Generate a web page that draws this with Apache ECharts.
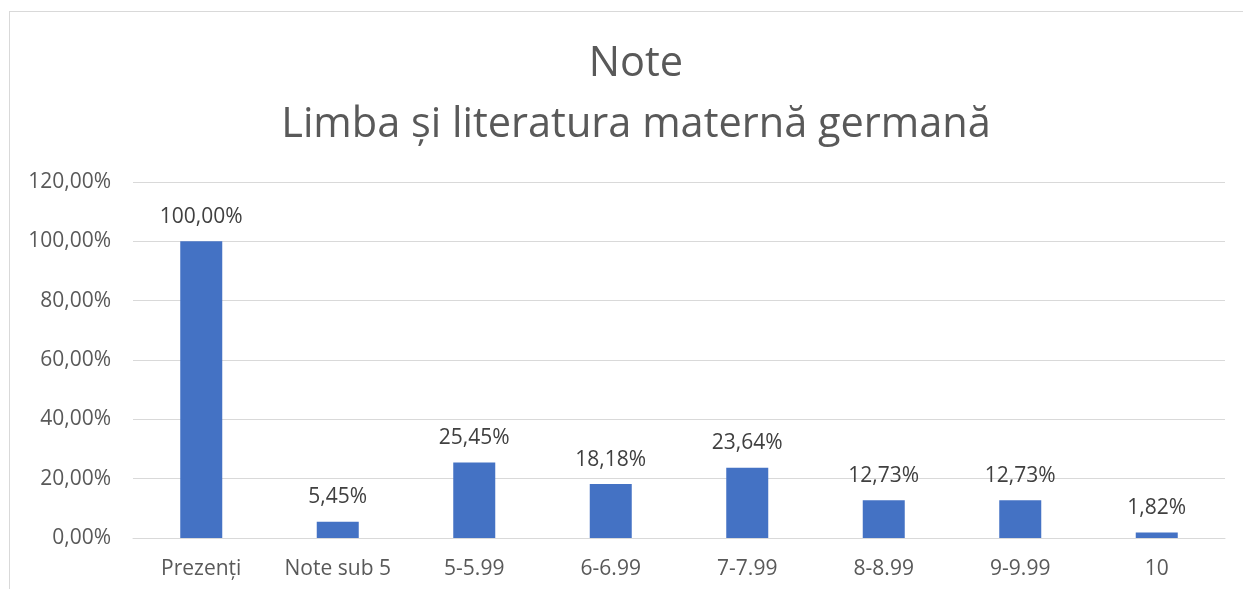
<!DOCTYPE html>
<html>
<head>
<meta charset="utf-8">
<script src="https://cdn.jsdelivr.net/npm/echarts@6/dist/echarts.min.js"></script>
<style>
  html, body { margin: 0; padding: 0; background: #fff; overflow: hidden; }
  #frame { position: absolute; left: 9px; top: 11px; width: 1260px; height: 600px; border: 1px solid #d9d9d9; }
  #main { position: absolute; left: 0; top: 0; width: 1243px; height: 589px; }
</style>
</head>
<body>
<div id="frame"></div>
<div id="main"></div>
<script>
const categories = ["Prezenți", "Note sub 5", "5-5.99", "6-6.99", "7-7.99", "8-8.99", "9-9.99", "10"];
const values = [100, 5.45, 25.45, 18.18, 23.64, 12.73, 12.73, 1.82];
const titleLines = ["Note", "Limba și literatura maternă germană"];

const fmt = (v) => v.toFixed(2).replace(".", ",") + "%";
const font = "'Open Sans', 'Noto Sans', sans-serif";

const chart = echarts.init(document.getElementById("main"));
chart.setOption({
    animation: false,
    textStyle: { fontFamily: font },
    title: {
        text: titleLines.join("\n"),
        left: 631,
        textAlign: "center",
        top: 29,
        textStyle: { fontFamily: font, fontSize: 41.5, fontWeight: "normal", color: "#595959", lineHeight: 61 },
    },
    grid: { left: 133, right: 18, top: 182, bottom: 51 },
    xAxis: {
        type: "category",
        data: categories,
        axisLine: { lineStyle: { color: "#d9d9d9", width: 1 } },
        axisTick: { show: false },
        axisLabel: { color: "#595959", fontSize: 21, margin: 21, interval: 0, fontFamily: font },
    },
    yAxis: {
        type: "value",
        min: 0,
        max: 120,
        interval: 20,
        axisLine: { show: false },
        axisTick: { show: false },
        splitLine: { lineStyle: { color: "#d9d9d9", width: 1 } },
        axisLabel: { color: "#595959", fontSize: 21, margin: 22, fontFamily: font, formatter: (v) => fmt(v) },
    },
    series: [{
        type: "bar",
        data: values,
        barWidth: 42,
        itemStyle: { color: "#4472c4" },
        label: {
            show: true,
            position: "top",
            distance: 14,
            color: "#404040",
            fontSize: 21,
            fontFamily: font,
            formatter: (p) => fmt(p.value),
        },
    }],
});
</script>
</body>
</html>
